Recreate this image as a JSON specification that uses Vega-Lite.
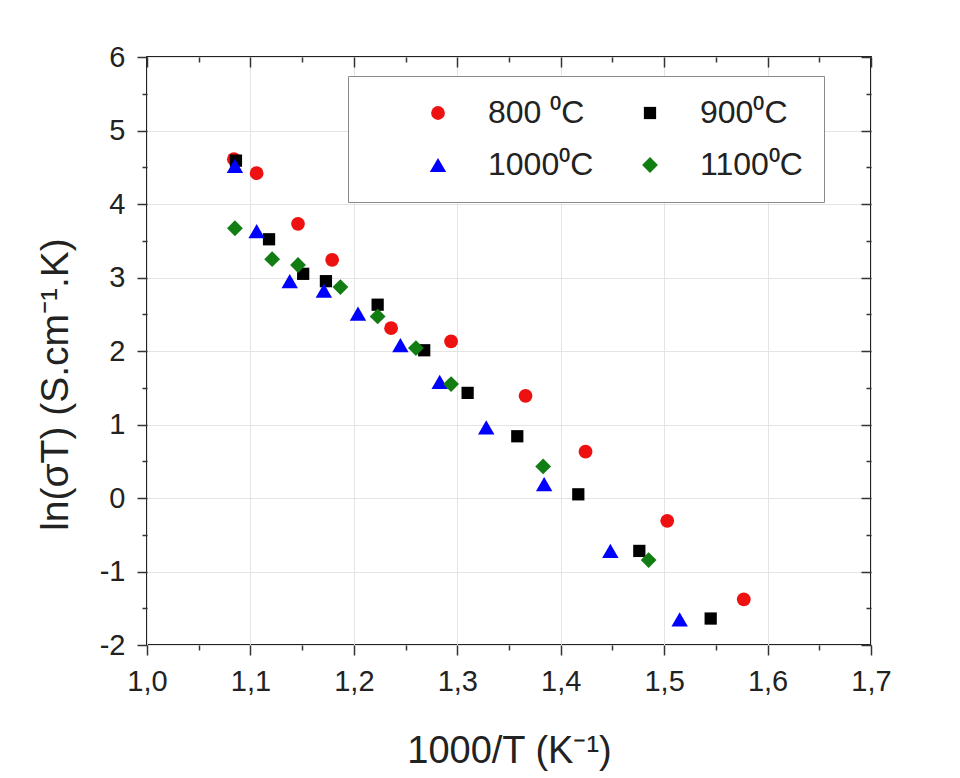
{
  "$schema": "https://vega.github.io/schema/vega-lite/v6.json",
  "width": 724,
  "height": 588,
  "autosize": "none",
  "padding": {"left": 147, "top": 57, "right": 89, "bottom": 133},
  "background": "white",
  "config": {
    "font": "Liberation Sans",
    "view": {"stroke": "#222222", "strokeWidth": 2},
    "axis": {"labelFont": "Liberation Sans", "titleFont": "Liberation Sans", "titleFontWeight": "normal", "labelColor": "#222222", "titleColor": "#222222", "tickColor": "#333333", "tickWidth": 1.5, "domain": false, "labelOverlap": false, "labelFlush": false}
  },
  "data": {
    "values": [
      {"T": "800 ⁰C", "x": 1.084, "y": 4.61},
      {"T": "800 ⁰C", "x": 1.106, "y": 4.42},
      {"T": "800 ⁰C", "x": 1.146, "y": 3.73},
      {"T": "800 ⁰C", "x": 1.179, "y": 3.24},
      {"T": "800 ⁰C", "x": 1.236, "y": 2.31},
      {"T": "800 ⁰C", "x": 1.294, "y": 2.13},
      {"T": "800 ⁰C", "x": 1.366, "y": 1.39},
      {"T": "800 ⁰C", "x": 1.424, "y": 0.63},
      {"T": "800 ⁰C", "x": 1.503, "y": -0.31},
      {"T": "800 ⁰C", "x": 1.577, "y": -1.38},
      {"T": "900⁰C", "x": 1.086, "y": 4.59},
      {"T": "900⁰C", "x": 1.118, "y": 3.52},
      {"T": "900⁰C", "x": 1.151, "y": 3.05},
      {"T": "900⁰C", "x": 1.173, "y": 2.95},
      {"T": "900⁰C", "x": 1.223, "y": 2.63},
      {"T": "900⁰C", "x": 1.268, "y": 2.01},
      {"T": "900⁰C", "x": 1.31, "y": 1.43},
      {"T": "900⁰C", "x": 1.358, "y": 0.84},
      {"T": "900⁰C", "x": 1.417, "y": 0.05},
      {"T": "900⁰C", "x": 1.476, "y": -0.72},
      {"T": "900⁰C", "x": 1.545, "y": -1.64},
      {"T": "1000⁰C", "x": 1.085, "y": 4.52},
      {"T": "1000⁰C", "x": 1.106, "y": 3.63},
      {"T": "1000⁰C", "x": 1.138, "y": 2.95},
      {"T": "1000⁰C", "x": 1.171, "y": 2.82},
      {"T": "1000⁰C", "x": 1.204, "y": 2.51},
      {"T": "1000⁰C", "x": 1.245, "y": 2.08},
      {"T": "1000⁰C", "x": 1.283, "y": 1.58},
      {"T": "1000⁰C", "x": 1.328, "y": 0.96},
      {"T": "1000⁰C", "x": 1.384, "y": 0.19},
      {"T": "1000⁰C", "x": 1.448, "y": -0.72},
      {"T": "1000⁰C", "x": 1.515, "y": -1.65},
      {"T": "1100⁰C", "x": 1.085, "y": 3.67},
      {"T": "1100⁰C", "x": 1.121, "y": 3.25},
      {"T": "1100⁰C", "x": 1.146, "y": 3.17},
      {"T": "1100⁰C", "x": 1.187, "y": 2.87},
      {"T": "1100⁰C", "x": 1.223, "y": 2.47},
      {"T": "1100⁰C", "x": 1.26, "y": 2.04},
      {"T": "1100⁰C", "x": 1.294, "y": 1.55},
      {"T": "1100⁰C", "x": 1.383, "y": 0.43},
      {"T": "1100⁰C", "x": 1.485, "y": -0.845}
    ]
  },
  "resolve": {"axis": {"x": "independent", "y": "independent"}},
  "layer": [
    {
      "mark": {"type": "point", "filled": true, "opacity": 1, "strokeWidth": 0},
      "encoding": {
        "x": {
          "field": "x", "type": "quantitative",
          "scale": {"domain": [1.0, 1.7], "nice": false, "zero": false},
          "axis": {
            "orient": "bottom",
            "values": [1.0, 1.05, 1.1, 1.15, 1.2, 1.25, 1.3, 1.35, 1.4, 1.45, 1.5, 1.55, 1.6, 1.65, 1.7],
            "labelExpr": "abs(round(datum.value*10) - datum.value*10) < 0.001 ? replace(format(datum.value, '.1f'), '.', ',') : ''",
            "tickSize": {"condition": {"test": "abs(round(datum.value*10) - datum.value*10) < 0.001", "value": 10}, "value": 5},
            "labelPadding": 12,
            "labelFontSize": 29,
            "grid": true,
            "gridColor": "#e4e4e4",
            "gridWidth": 1,
            "gridOpacity": {"condition": {"test": "abs(round(datum.value*10) - datum.value*10) < 0.001", "value": 1}, "value": 0},
            "title": "1000/T (K⁻¹)",
            "titleFontSize": 38,
            "titleY": 117,
            "titleBaseline": "alphabetic"
          }
        },
        "y": {
          "field": "y", "type": "quantitative",
          "scale": {"domain": [-2, 6], "nice": false, "zero": false},
          "axis": {
            "orient": "left",
            "values": [-2, -1.5, -1, -0.5, 0, 0.5, 1, 1.5, 2, 2.5, 3, 3.5, 4, 4.5, 5, 5.5, 6],
            "labelExpr": "abs(round(datum.value) - datum.value) < 0.001 ? '' + round(datum.value) : ''",
            "tickSize": {"condition": {"test": "abs(round(datum.value) - datum.value) < 0.001", "value": 10}, "value": 5},
            "labelPadding": 12,
            "labelFontSize": 29,
            "grid": true,
            "gridColor": "#e4e4e4",
            "gridWidth": 1,
            "gridOpacity": {"condition": {"test": "abs(round(datum.value) - datum.value) < 0.001", "value": 1}, "value": 0},
            "title": "ln(σT) (S.cm⁻¹.K)",
            "titleFontSize": 39,
            "titleAngle": -90,
            "titleX": -80,
            "titleY": 327,
            "titleAlign": "center",
            "titleBaseline": "alphabetic"
          }
        },
        "color": {
          "field": "T", "type": "nominal",
          "scale": {"domain": ["800 ⁰C", "900⁰C", "1000⁰C", "1100⁰C"], "range": ["#ee1111", "#000000", "#0000ff", "#127d12"]},
          "legend": {
            "orient": "none", "legendX": 201, "legendY": 19, "columns": 2, "direction": "horizontal",
            "title": "\u00a0", "titleOrient": "left", "titleFontSize": 1, "titlePadding": 53,
            "padding": 21, "labelFontSize": 32, "labelFont": "Liberation Sans", "labelColor": "#222222",
            "labelOffset": 34, "columnPadding": 40, "rowPadding": 20, "symbolSize": 160,
            "strokeColor": "#8a8a8a", "fillColor": "white", "symbolStrokeWidth": 0
          }
        },
        "shape": {
          "field": "T", "type": "nominal",
          "scale": {"domain": ["800 ⁰C", "900⁰C", "1000⁰C", "1100⁰C"], "range": ["circle", "square", "triangle-up", "diamond"]},
          "legend": {
            "orient": "none", "legendX": 201, "legendY": 19, "columns": 2, "direction": "horizontal",
            "title": "\u00a0", "titleOrient": "left", "titleFontSize": 1, "titlePadding": 53,
            "padding": 21, "labelFontSize": 32, "labelFont": "Liberation Sans", "labelColor": "#222222",
            "labelOffset": 34, "columnPadding": 40, "rowPadding": 20, "symbolSize": 160,
            "strokeColor": "#8a8a8a", "fillColor": "white", "symbolStrokeWidth": 0
          }
        },
        "size": {
          "field": "T", "type": "nominal", "legend": null,
          "scale": {"type": "ordinal", "domain": ["800 ⁰C", "900⁰C", "1000⁰C", "1100⁰C"], "range": [190, 150, 270, 250]}
        }
      }
    },
    {
      "mark": {"type": "point", "opacity": 0},
      "encoding": {
        "x": {
          "field": "x", "type": "quantitative",
          "axis": {
            "orient": "top",
            "values": [1.0, 1.05, 1.1, 1.15, 1.2, 1.25, 1.3, 1.35, 1.4, 1.45, 1.5, 1.55, 1.6, 1.65, 1.7],
            "labels": false,
            "grid": false,
            "tickSize": {"condition": {"test": "abs(round(datum.value*10) - datum.value*10) < 0.001", "value": -10}, "value": -5},
            "title": null
          }
        },
        "y": {
          "field": "y", "type": "quantitative",
          "axis": {
            "orient": "right",
            "values": [-2, -1.5, -1, -0.5, 0, 0.5, 1, 1.5, 2, 2.5, 3, 3.5, 4, 4.5, 5, 5.5, 6],
            "labels": false,
            "grid": false,
            "tickSize": {"condition": {"test": "abs(round(datum.value) - datum.value) < 0.001", "value": -10}, "value": -5},
            "title": null
          }
        }
      }
    }
  ]
}
